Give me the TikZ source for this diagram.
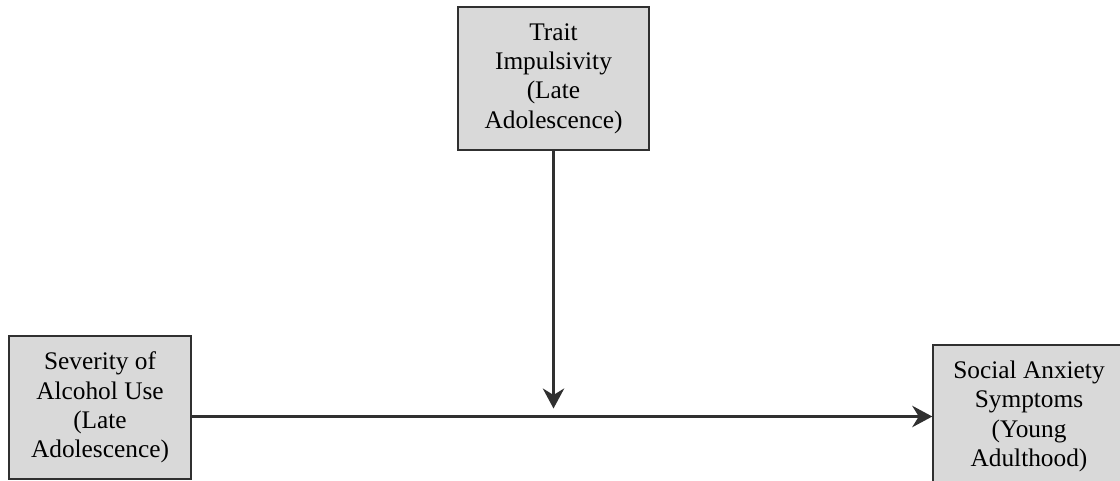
\documentclass[tikz,border=0pt]{standalone}
\usepackage{fontspec}
\setmainfont{Liberation Serif}
\usetikzlibrary{arrows.meta}
\usetikzlibrary{positioning}
\definecolor{boxgray}{HTML}{D9D9D9}
\definecolor{linegray}{HTML}{303030}
\tikzset{
    varbox/.style={draw=linegray, line width=1.1pt, fill=boxgray, align=center,
        minimum height=107.25pt, inner sep=2pt,
        font=\fontsize{19}{22}\selectfont},
    path/.style={->, draw=linegray, line width=2.2pt},
}

\begin{document}
\begin{tikzpicture}[x=0.75pt, y=-0.75pt, >={Stealth[length=15pt,width=16pt]}]

            % Frame of the picture
            \clip (0,0) rectangle (1120,481);
            \fill[white] (0,0) rectangle (1120,481);

            % Variables
            \node[varbox, minimum width=136.5pt] (severity) at (100,407.5) {Severity of\\Alcohol Use\\(Late\\Adolescence)};
            \node[varbox, minimum width=143.25pt] (trait) at (553.5,78.5) {Trait\\Impulsivity\\(Late\\Adolescence)};
            \node[varbox, minimum width=144pt] (anxiety) at (1029,416.5) {Social Anxiety\\Symptoms\\(Young\\Adulthood)};

            % Moderation point on the main path
            \coordinate (mod) at ([yshift=6pt]trait.south |- anxiety.west);

            % Paths
            \draw[path] (severity.east |- anxiety.west) -- (anxiety.west);
            \draw[path] (trait.south) -- (mod);

        \end{tikzpicture}
\end{document}
